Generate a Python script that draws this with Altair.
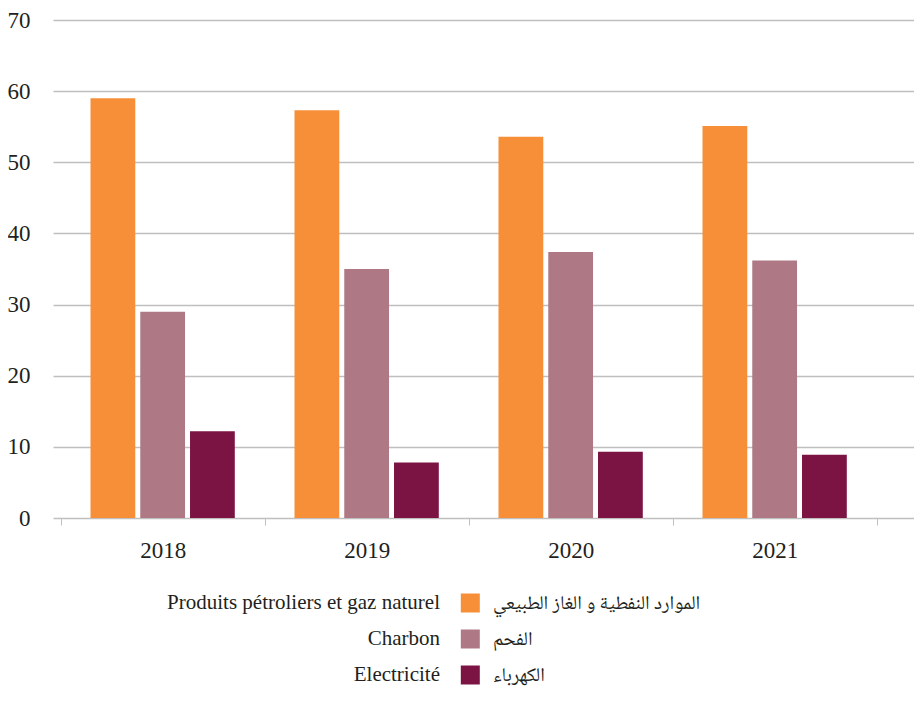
import altair as alt
import pandas as pd

years = ["2018", "2019", "2020", "2021"]
series_fr = ["Produits pétroliers et gaz naturel", "Charbon", "Electricité"]
series_ar = ["الموارد النفطية و الغاز الطبيعي", "الفحم", "الكهرباء"]
petrole = [59.0, 57.3, 53.6, 55.1]
charbon = [29.0, 35.0, 37.4, 36.2]
electricite = [12.2, 7.8, 9.3, 8.9]
colors = ["#F68F38", "#AE7985", "#7B1443"]
y_ticks = [0, 10, 20, 30, 40, 50, 60, 70]

FONT = "Liberation Serif, Times New Roman, DejaVu Serif, serif"
AR_FONT = "Noto Naskh Arabic, Amiri, Noto Sans Arabic, DejaVu Sans, sans-serif"
TXT = "#231F20"
GRID = "#BFBFBF"

rows = []
for i, yr in enumerate(years):
    for s, vals in zip(series_fr, [petrole, charbon, electricite]):
        rows.append({"annee": yr, "serie": s, "valeur": vals[i]})
df = pd.DataFrame(rows)
leg = pd.DataFrame({"serie": series_fr, "ar": series_ar})

color = alt.Color("serie:N", scale=alt.Scale(domain=series_fr, range=colors), legend=None)

bars = alt.Chart(df).mark_bar().encode(
    x=alt.X(
        "annee:N", sort=years, title=None,
        scale=alt.Scale(paddingInner=0, paddingOuter=0.1103, align=0.17),
        axis=alt.Axis(labelAngle=0, tickBand="extent", domain=False, ticks=True,
                      tickSize=7, tickColor=GRID, tickWidth=1, labelPadding=14,
                      labelFont=FONT, labelFontSize=23, labelColor=TXT, grid=False),
    ),
    xOffset=alt.XOffset("serie:N", sort=series_fr,
                        scale=alt.Scale(paddingInner=0.1, paddingOuter=0.6)),
    y=alt.Y(
        "valeur:Q", scale=alt.Scale(domain=[0, 70]), title=None,
        axis=alt.Axis(values=y_ticks, domain=False, ticks=False, labelPadding=23,
                      labelFont=FONT, labelFontSize=23, labelColor=TXT,
                      grid=True, gridColor=GRID, gridWidth=1.3),
    ),
    color=color,
)

legbase = alt.Chart(leg).encode(
    y=alt.Y("serie:N", sort=series_fr,
            scale=alt.Scale(range=[583, 655], padding=0), axis=None)
)
sw = legbase.mark_square(size=361, opacity=1).encode(x=alt.value(417.3), color=color)
fr = legbase.mark_text(align="right", baseline="middle", font=FONT, fontSize=21,
                       color=TXT).encode(x=alt.value(387), text="serie:N")
ar = legbase.mark_text(align="left", baseline="middle", font=AR_FONT, fontSize=19.5,
                       color=TXT).encode(x=alt.value(440), text="ar:N")

chart = alt.layer(bars, sw, fr, ar).resolve_scale(y="independent").properties(
    width=861, height=498,
    autosize=alt.AutoSizeParams(type="none"),
    padding={"left": 45, "top": 12, "right": 0, "bottom": 175},
).configure_view(stroke=None)

chart.save("out.html", embed_options={"renderer": "svg", "actions": False})
